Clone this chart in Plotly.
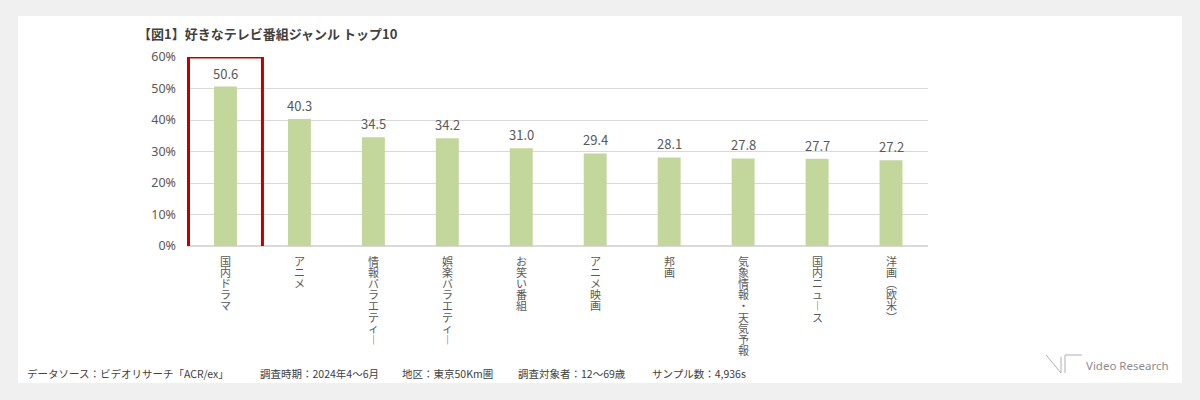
import plotly.graph_objects as go

categories = ["国内ドラマ", "アニメ", "情報バラエティー", "娯楽バラエティー", "お笑い番組",
              "アニメ映画", "邦画", "気象情報・天気予報", "国内ニュース", "洋画（欧米）"]
values = [50.6, 40.3, 34.5, 34.2, 31.0, 29.4, 28.1, 27.8, 27.7, 27.2]
y_ticks = [0, 10, 20, 30, 40, 50, 60]
y_tick_labels = ["0%", "10%", "20%", "30%", "40%", "50%", "60%"]
title_text = "【図1】好きなテレビ番組ジャンル トップ10"
footer_segments = ["データソース：ビデオリサーチ「ACR/ex」", "調査時期：2024年4～6月",
                   "地区：東京50Km圏", "調査対象者：12～69歳", "サンプル数：4,936s"]
footer_starts = [25, 258, 400, 516, 650]
logo_text = "Video Research"

W, H = 1200, 400
L, R, T, B = 187, 928, 57, 246
FONT = "Noto Sans CJK JP"
GRAY = "#595959"


def px(x):
    return (x - L) / (R - L)


def py(y):
    return (B - y) / (B - T)


vertical_map = {"ー": "︱", "（": "︵", "）": "︶"}

fig = go.Figure()
fig.add_trace(go.Bar(
    x=categories, y=values, width=0.31,
    marker=dict(color="#c3d69b", line=dict(width=0)),
    hoverinfo="skip",
))

annotations = []
# data labels
for c, v in zip(categories, values):
    annotations.append(dict(x=c, y=v, xref="x", yref="y", text=f"{v:.1f}",
                            showarrow=False, yanchor="middle", yshift=13.5,
                            font=dict(family=FONT, size=13, color=GRAY)))
# vertical category labels
for c in categories:
    for i, ch in enumerate(c):
        annotations.append(dict(x=c, y=0, xref="x", yref="y",
                                text=vertical_map.get(ch, ch), showarrow=False,
                                yanchor="middle", xanchor="center",
                                yshift=-(15 + i * 11.1),
                                font=dict(family=FONT, size=11, color=GRAY)))
# title
annotations.append(dict(x=px(136), y=py(33), xref="paper", yref="paper",
                        text=f"<b>{title_text}</b>", showarrow=False,
                        xanchor="left", yanchor="middle",
                        font=dict(family=FONT, size=13, color="#404040")))
# footer
for seg, x0 in zip(footer_segments, footer_starts):
    annotations.append(dict(x=px(x0), y=py(373), xref="paper", yref="paper",
                            text=seg, showarrow=False,
                            xanchor="left", yanchor="middle",
                            font=dict(family=FONT, size=10.5, color="#404040")))
# logo text
annotations.append(dict(x=px(1084), y=py(365), xref="paper", yref="paper",
                        text=logo_text, showarrow=False,
                        xanchor="left", yanchor="middle",
                        font=dict(family="Noto Sans", size=11.5, color="#8c8c8c")))

shapes = [
    # white panel
    dict(type="rect", xref="paper", yref="paper", x0=px(18), x1=px(1182),
         y0=py(383), y1=py(16), fillcolor="white", line=dict(width=0), layer="below"),
    # highlight box
    dict(type="rect", xref="x", yref="y", x0=-0.5, x1=0.5, y0=-33, y1=60,
         line=dict(color="#c00000", width=3), fillcolor="rgba(0,0,0,0)", layer="above"),
]
logo_lines = [((1046, 355), (1061, 373)), ((1061, 373), (1061, 357)),
              ((1065, 373), (1065, 355)), ((1065, 355), (1082, 355))]
for (x0, y0), (x1, y1) in logo_lines:
    shapes.append(dict(type="line", xref="paper", yref="paper",
                       x0=px(x0), y0=py(y0), x1=px(x1), y1=py(y1),
                       line=dict(color="#b0b0b0", width=1)))

fig.update_layout(
    width=W, height=H,
    margin=dict(l=L, r=W - R, t=T, b=H - B, pad=0),
    paper_bgcolor="#f0f0f0", plot_bgcolor="white",
    showlegend=False, bargap=0.69,
    annotations=annotations, shapes=shapes,
    font=dict(family=FONT, color=GRAY),
)
fig.update_xaxes(showticklabels=False, showgrid=False, showline=True,
                 linecolor="#d9d9d9", linewidth=1, ticks="", fixedrange=True)
fig.update_yaxes(range=[0, 60], tickvals=y_ticks, ticktext=y_tick_labels,
                 showgrid=True, gridcolor="#d9d9d9", gridwidth=1,
                 zeroline=True, zerolinecolor="#d9d9d9", showline=False,
                 ticks="", ticklabelstandoff=10,
                 tickfont=dict(family="Noto Sans", size=12.5, color=GRAY),
                 fixedrange=True)

fig.write_html("out.html", config={"displayModeBar": False})
